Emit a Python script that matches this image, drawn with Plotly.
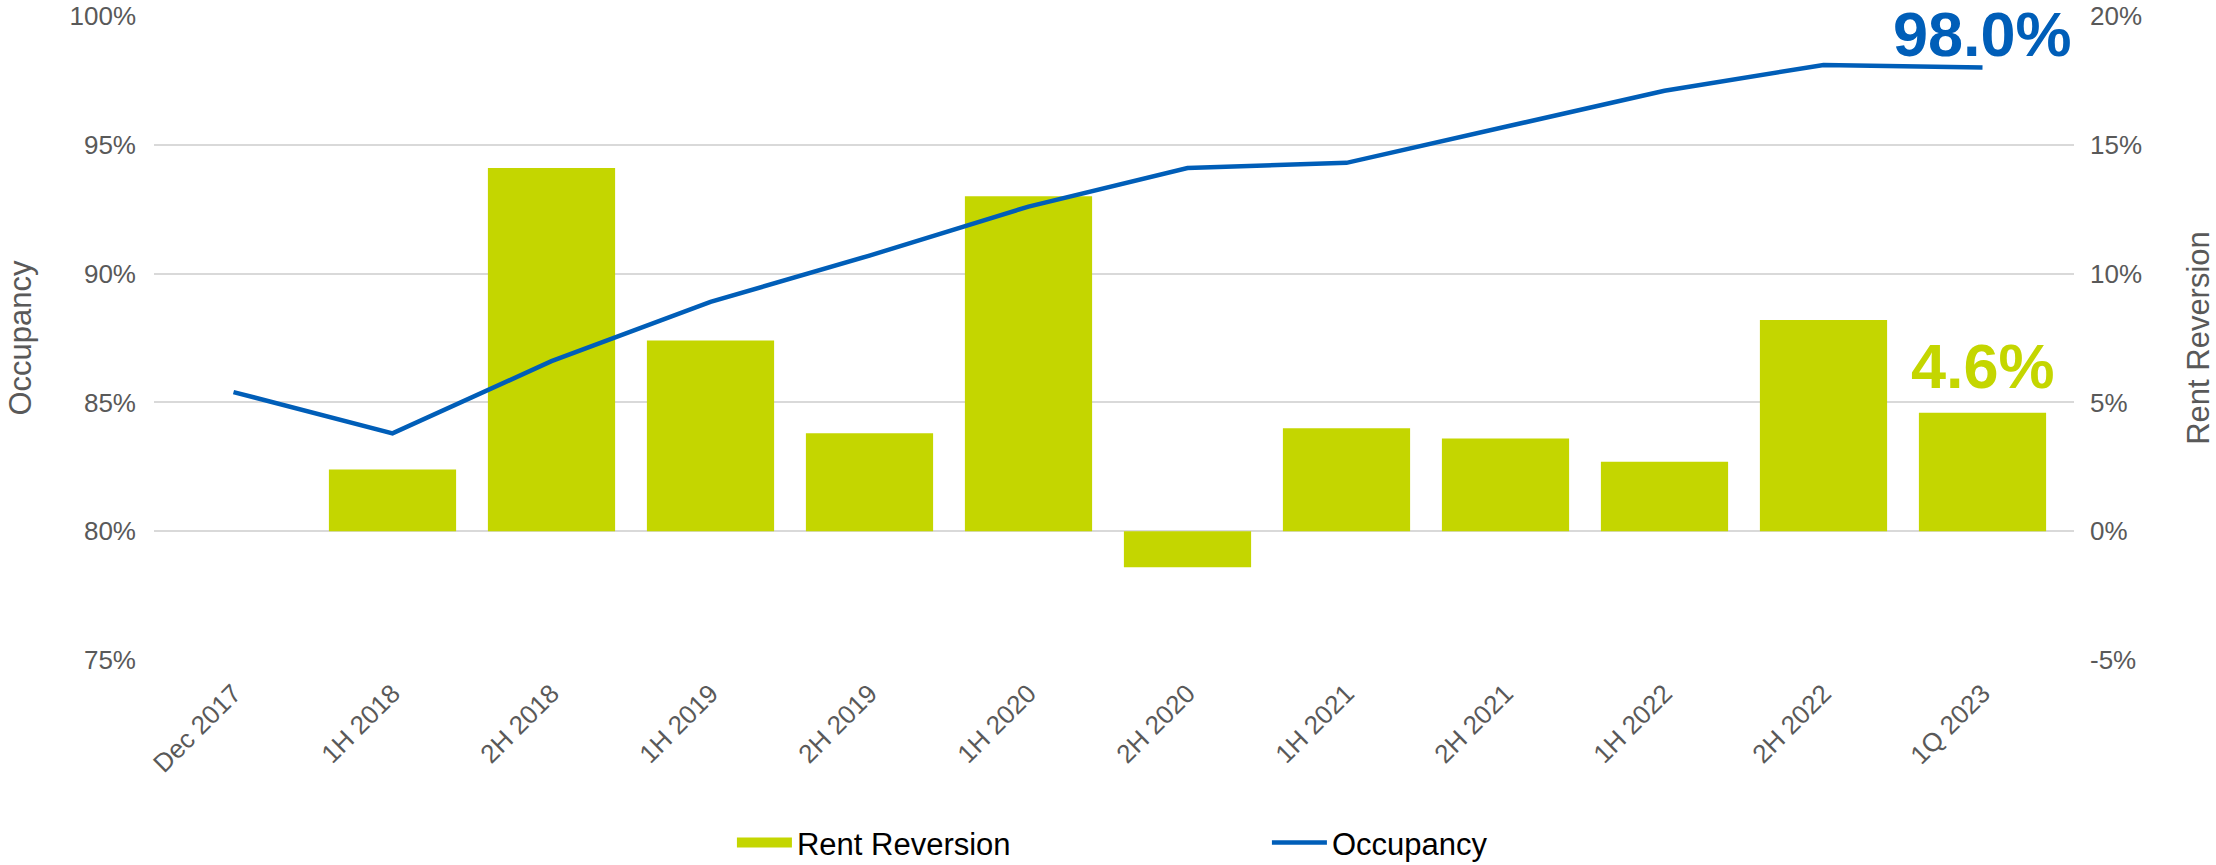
import plotly.graph_objects as go

categories = ["Dec 2017", "1H 2018", "2H 2018", "1H 2019", "2H 2019", "1H 2020",
              "2H 2020", "1H 2021", "2H 2021", "1H 2022", "2H 2022", "1Q 2023"]
rent_reversion = [None, 2.4, 14.1, 7.4, 3.8, 13.0, -1.4, 4.0, 3.6, 2.7, 8.2, 4.6]
occupancy = [85.4, 83.8, 86.6, 88.9, 90.7, 92.6, 94.1, 94.3, 95.7, 97.1, 98.1, 98.0]
rent_ticks = [-5, 0, 5, 10, 15, 20]
rent_tick_labels = ["-5%", "0%", "5%", "10%", "15%", "20%"]

GREEN = "#C4D600"
BLUE = "#005EB8"
GREY = "#595959"
FONT = "Liberation Sans, Arial, sans-serif"

fig = go.Figure()
fig.add_trace(go.Bar(x=categories, y=rent_reversion, name="Rent Reversion",
                     marker=dict(color=GREEN, line=dict(width=0)), yaxis="y",
                     showlegend=False, legendgroup="rent"))
# legend entry for the bars (wide swatch like the original)
fig.add_trace(go.Scatter(x=[None], y=[None], name="Rent Reversion", mode="lines",
                         line=dict(color=GREEN, width=17), yaxis="y",
                         legendgroup="rent", hoverinfo="skip"))
fig.add_trace(go.Scatter(x=categories, y=occupancy, name="Occupancy", mode="lines",
                         line=dict(color=BLUE, width=4.5), yaxis="y2"))

fig.add_annotation(x=categories[-1], y=occupancy[-1], xref="x", yref="y2",
                   text="<b>%.1f%%</b>" % occupancy[-1], showarrow=False,
                   yanchor="bottom", yshift=-3,
                   font=dict(family=FONT, size=63, color=BLUE))
fig.add_annotation(x=categories[-1], y=rent_reversion[-1], xref="x", yref="y",
                   text="<b>%.1f%%</b>" % rent_reversion[-1], showarrow=False,
                   yanchor="bottom", yshift=10,
                   font=dict(family=FONT, size=63, color=GREEN))

fig.update_layout(
    width=2216, height=865,
    margin=dict(l=154, r=142, t=16, b=205, autoexpand=False),
    plot_bgcolor="white", paper_bgcolor="white",
    bargap=0.2,
    font=dict(family=FONT, color=GREY),
    xaxis=dict(tickangle=-45, tickfont=dict(size=26, color=GREY), showgrid=False,
               showline=False, ticks="", automargin=False, ticklabelstandoff=12),
    yaxis=dict(side="right", range=[-5, 20], tickmode="array",
               tickvals=rent_ticks, ticktext=rent_tick_labels,
               showgrid=True, gridcolor="#D9D9D9", gridwidth=1.5, zeroline=False,
               tickfont=dict(size=26, color=GREY), ticklabelstandoff=15, automargin=False,
               ticklabeloverflow="allow",
               title=dict(text="Rent Reversion", font=dict(size=31, color=GREY), standoff=58)),
    yaxis2=dict(side="left", overlaying="y", range=[75, 100], dtick=5, ticksuffix="%",
                showgrid=False, zeroline=False, automargin=False,
                tickfont=dict(size=26, color=GREY), ticklabelstandoff=17,
                ticklabeloverflow="allow",
                title=dict(text="Occupancy", font=dict(size=31, color=GREY), standoff=28)),
    legend=dict(orientation="h", x=0.301, xanchor="left", y=-0.284, yanchor="middle",
                font=dict(size=31, color="black"), entrywidth=465, itemwidth=55,
                traceorder="normal"),
    showlegend=True,
)

fig.write_html("out.html", config={"displayModeBar": False},
               post_script="document.body.style.margin='0';document.body.style.padding='0';")
